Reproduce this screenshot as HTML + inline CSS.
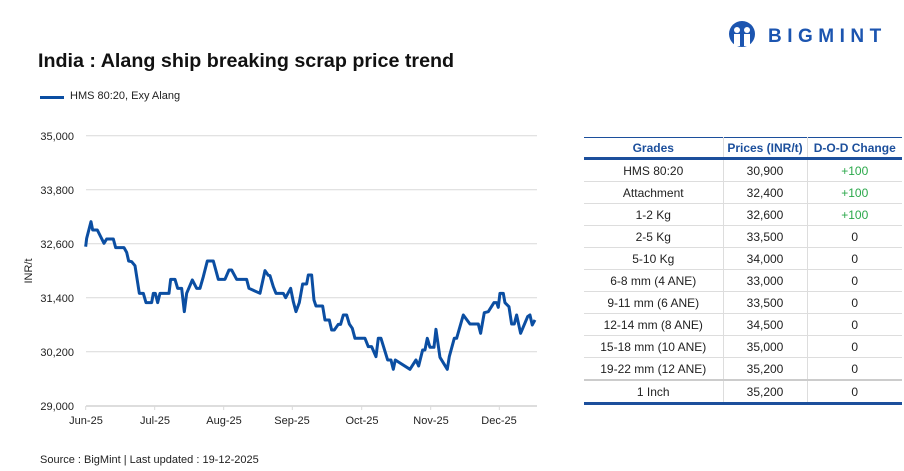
<!DOCTYPE html>
<html><head><meta charset="utf-8"><style>
body{margin:0;width:904px;height:471px;background:#fff;font-family:"Liberation Sans",sans-serif;position:relative;overflow:hidden;color:#222}
.a{position:absolute;white-space:nowrap}
table{border-collapse:collapse;position:absolute;left:584px;top:137px;width:318px;font-size:12px;table-layout:fixed}
td,th{text-align:center;height:21px;padding:0;border-right:1px solid #ddd;border-bottom:1px solid #ddd}
td:last-child,th:last-child{border-right:none}
th{color:#1c4f9c;font-weight:bold;border-top:1px solid #1c4f9c;border-bottom:3px solid #1c4f9c;height:19px}
.g{color:#2aa84a}
tr.last td{border-top:2px solid #ccc;border-bottom:3px solid #1c4f9c}
</style></head><body>
<div class="a" style="left:38px;top:50px;font-size:19.7px;font-weight:bold;color:#111">India : Alang ship breaking scrap price trend</div>
<div class="a" style="left:40px;top:96px;width:24px;height:3px;background:#0b4ea2"></div>
<div class="a" style="left:70px;top:90px;font-size:11px">HMS 80:20, Exy Alang</div>
<svg class="a" style="left:726px;top:21px" width="32" height="27" viewBox="0 0 32 27"><circle cx="16" cy="13" r="13" fill="#1c55b0"/><circle cx="11" cy="9" r="3" fill="#fff"/><circle cx="21" cy="9" r="3" fill="#fff"/><path d="M8 13h6v12h-6zM18 13h6v12h-6z" fill="#fff"/></svg>
<div class="a" style="left:768px;top:26px;font-size:19px;font-weight:bold;color:#1c55b0;letter-spacing:5.5px">BIGMINT</div>
<svg class="a" style="left:0;top:0" width="580" height="471">
<g stroke="#d9d9d9" stroke-width="1">
<line x1="86" x2="537" y1="135.7" y2="135.7"/><line x1="86" x2="537" y1="189.7" y2="189.7"/><line x1="86" x2="537" y1="243.7" y2="243.7"/><line x1="86" x2="537" y1="297.7" y2="297.7"/><line x1="86" x2="537" y1="351.7" y2="351.7"/>
<line x1="86" x2="537" y1="406" y2="406" stroke="#bbb"/>
<line x1="85.7" x2="85.7" y1="406" y2="410"/><line x1="154.7" x2="154.7" y1="406" y2="410"/><line x1="223.7" x2="223.7" y1="406" y2="410"/><line x1="292.3" x2="292.3" y1="406" y2="410"/><line x1="361.7" x2="361.7" y1="406" y2="410"/><line x1="430.7" x2="430.7" y1="406" y2="410"/><line x1="499.3" x2="499.3" y1="406" y2="410"/>
</g>
<g font-size="11" fill="#222" text-anchor="end">
<text x="74" y="140">35,000</text><text x="74" y="194">33,800</text><text x="74" y="248">32,600</text><text x="74" y="302">31,400</text><text x="74" y="356">30,200</text><text x="74" y="410">29,000</text>
</g>
<g font-size="11" fill="#222" text-anchor="middle">
<text x="86" y="424">Jun-25</text><text x="155" y="424">Jul-25</text><text x="224" y="424">Aug-25</text><text x="292" y="424">Sep-25</text><text x="362" y="424">Oct-25</text><text x="431" y="424">Nov-25</text><text x="499" y="424">Dec-25</text>
</g>
<text x="32" y="271" font-size="11" fill="#222" text-anchor="middle" transform="rotate(-90 32 271)">INR/t</text>
<g transform="translate(20,120) scale(0.3333)">
<polyline fill="none" stroke="#0b4ea2" stroke-width="9" stroke-linejoin="round" points="197,380 200,355 213,305 218,330 232,330 252,370 260,357 280,357 287,383 312,383 320,397 326,423 335,425 345,437 358,520 370,520 378,548 395,548 400,520 406,520 413,548 420,520 447,520 452,478 465,478 473,505 485,505 493,575 500,520 517,480 530,505 540,505 550,470 562,423 580,423 595,478 615,478 627,450 635,450 650,478 680,478 687,505 720,520 735,452 745,466 750,467 760,500 768,520 790,520 797,533 812,505 820,545 828,575 838,548 848,492 860,492 865,465 875,465 882,540 888,558 908,558 915,600 928,600 935,630 943,630 955,613 962,613 970,585 980,585 988,612 997,625 1005,655 1035,655 1045,680 1055,680 1068,710 1075,655 1083,655 1103,720 1113,720 1120,748 1126,720 1170,748 1188,720 1196,738 1208,690 1215,690 1222,655 1230,682 1242,682 1248,628 1260,712 1282,748 1288,710 1303,655 1310,655 1330,585 1350,612 1375,612 1382,640 1393,578 1405,575 1422,548 1430,548 1435,562 1440,520 1450,520 1455,548 1467,560 1475,612 1483,612 1490,585 1502,640 1523,590 1530,585 1537,615 1545,600"/>
</g>
</svg>
<table>
<colgroup><col style="width:139px"><col style="width:84px"><col style="width:95px"></colgroup>
<tr><th>Grades</th><th>Prices (INR/t)</th><th>D-O-D Change</th></tr>
<tr><td>HMS 80:20</td><td>30,900</td><td class="g">+100</td></tr>
<tr><td>Attachment</td><td>32,400</td><td class="g">+100</td></tr>
<tr><td>1-2 Kg</td><td>32,600</td><td class="g">+100</td></tr>
<tr><td>2-5 Kg</td><td>33,500</td><td>0</td></tr>
<tr><td>5-10 Kg</td><td>34,000</td><td>0</td></tr>
<tr><td>6-8 mm (4 ANE)</td><td>33,000</td><td>0</td></tr>
<tr><td>9-11 mm (6 ANE)</td><td>33,500</td><td>0</td></tr>
<tr><td>12-14 mm (8 ANE)</td><td>34,500</td><td>0</td></tr>
<tr><td>15-18 mm (10 ANE)</td><td>35,000</td><td>0</td></tr>
<tr><td>19-22 mm (12 ANE)</td><td>35,200</td><td>0</td></tr>
<tr class="last"><td>1 Inch</td><td>35,200</td><td>0</td></tr>
</table>
<div class="a" style="left:40px;top:454px;font-size:11px">Source : BigMint | Last updated : 19-12-2025</div>
</body></html>
